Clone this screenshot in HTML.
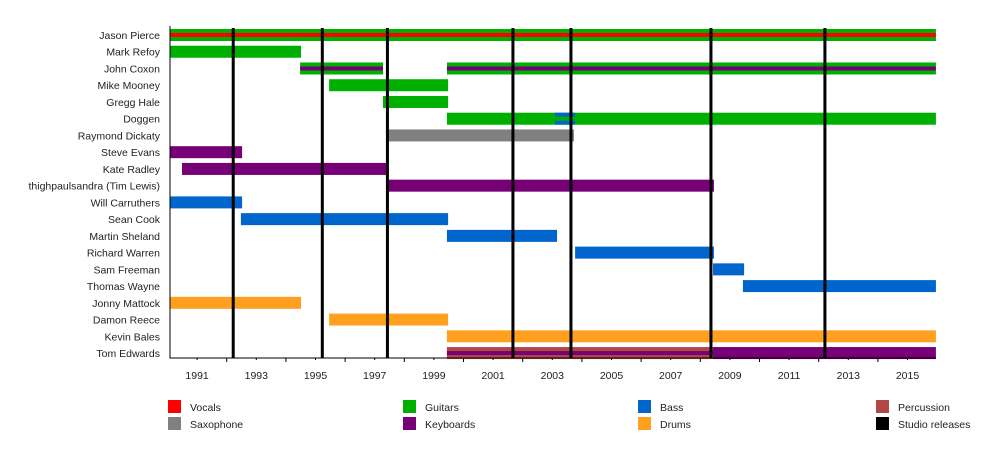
<!DOCTYPE html>
<html><head><meta charset="utf-8">
<style>
html,body{margin:0;padding:0;background:#fff;}
svg{display:block;font-family:"Liberation Sans",Arial,sans-serif;}
</style></head>
<body>
<svg id="chart" width="1000" height="450" viewBox="0 0 1000 450"></svg>
<script>
const members = ["Jason Pierce","Mark Refoy","John Coxon","Mike Mooney","Gregg Hale","Doggen","Raymond Dickaty","Steve Evans","Kate Radley","thighpaulsandra (Tim Lewis)","Will Carruthers","Sean Cook","Martin Sheland","Richard Warren","Sam Freeman","Thomas Wayne","Jonny Mattock","Damon Reece","Kevin Bales","Tom Edwards"];
// bars: [memberIndex, start, end, outerRole, innerRole]
const barRows   = [0,1,2,2,3,4,5,5,6,7,8,9,10,11,12,13,14,15,16,17,18,19,19];
const barStarts = [1990.08,1990.08,1994.48,1999.44,1995.46,1997.28,1999.44,2003.09,1997.45,1990.08,1990.49,1997.45,1990.08,1992.48,1999.44,2003.77,2008.43,2009.44,1990.08,1995.46,1999.44,1999.44,2008.43];
const barEnds   = [2015.96,1994.51,1997.28,2015.96,1999.48,1999.48,2015.96,2003.77,2003.73,1992.52,1997.45,2008.46,1992.52,1999.48,2003.16,2008.46,2009.48,2015.96,1994.51,1999.48,2015.96,2008.43,2015.96];
const barOuter  = ["Guitars","Guitars","Guitars","Guitars","Guitars","Guitars","Guitars","Bass","Saxophone","Keyboards","Keyboards","Keyboards","Bass","Bass","Bass","Bass","Bass","Bass","Drums","Drums","Drums","Percussion","Keyboards"];
const barInner  = ["Vocals","","Keyboards","Keyboards","","","","Guitars","","","","","","","","","","","","","","Keyboards",""];
const releases  = [1992.22,1995.23,1997.43,2001.67,2003.63,2008.36,2012.21];
const yearLabels = [1991,1993,1995,1997,1999,2001,2003,2005,2007,2009,2011,2013,2015];
const minorTicks = [1992,1994,1996,1998,2000,2002,2004,2006,2008,2010,2012,2014];
const legendItems = ["Vocals","Saxophone","Guitars","Keyboards","Bass","Drums","Percussion","Studio releases"];

const colors = {Vocals:"#ff0000",Saxophone:"#808080",Guitars:"#00b000",Keyboards:"#770077",Bass:"#0066cc",Drums:"#ffa020",Percussion:"#b04848","Studio releases":"#000000"};
const NS="http://www.w3.org/2000/svg";
const svg=document.getElementById('chart');
const X0=170, X1=936, Y0=26, Y1=358;
const xScale=y=>167.5+(y-1990)*29.6;
const rowY=i=>35+i*16.74;
function el(tag,attrs,parent){const e=document.createElementNS(NS,tag);for(const k in attrs)e.setAttribute(k,attrs[k]);(parent||svg).appendChild(e);return e;}

// labels
members.forEach((m,i)=>{
  const t=el('text',{x:160,y:rowY(i)+4,'text-anchor':'end','font-size':'10.5',fill:'#222'});
  t.textContent=m;
  
  
});
// bars
for(let k=0;k<barRows.length;k++){
  const cy=rowY(barRows[k]);
  const x=xScale(barStarts[k]), w=xScale(barEnds[k])-x;
  const r=el('rect',{x:x,y:cy-6,width:w,height:12,fill:colors[barOuter[k]]});
  
  
  if(barInner[k]){
    const r2=el('rect',{x:x,y:cy-2,width:w,height:4,fill:colors[barInner[k]]});
    
    
  }
}
// release lines
releases.forEach(r=>{
  const l=el('line',{x1:xScale(r),x2:xScale(r),y1:Y0+2,y2:Y1,stroke:'#000','stroke-width':3});
  
  
});
// axes
const ax=el('path',{d:`M${X0} ${Y0}V${Y1}H${X1}`,fill:'none',stroke:'#000','stroke-width':1});


minorTicks.forEach(t=>{
  const l=el('line',{x1:xScale(t),x2:xScale(t),y1:Y1,y2:Y1+4,stroke:'#000','stroke-width':1});
  
  
});
yearLabels.forEach(t=>{
  const l=el('line',{x1:xScale(t),x2:xScale(t),y1:Y1,y2:Y1+2,stroke:'#000','stroke-width':1});
  
  
  const tx=el('text',{x:xScale(t),y:379,'text-anchor':'middle','font-size':'10.5',fill:'#222'});
  tx.textContent=t;
  
  
});
// legend
legendItems.forEach((n,i)=>{
  const col=Math.floor(i/2), row=i%2;
  const lx=[168,403,638,876][col], ly=400+row*17;
  const g=el('g',{});
  
  
  el('rect',{x:lx,y:ly,width:13,height:13,fill:colors[n]},g);
  const t=el('text',{x:lx+22,y:ly+11,'font-size':'10.5',fill:'#222'},g);
  t.textContent=n;
});
</script>
</body></html>
